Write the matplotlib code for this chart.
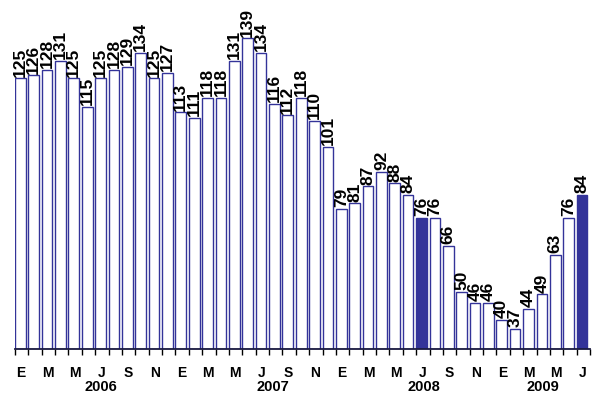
import matplotlib
matplotlib.use("Agg")
from matplotlib import pyplot as plt
from matplotlib import transforms
import numpy as np

plt.rcParams['font.family'] = ['Liberation Sans', 'DejaVu Sans']

# monthly index values, Jan 2006 .. Jul 2009
values_2006 = [125, 126, 128, 131, 125, 115, 125, 128, 129, 134, 125, 127]
values_2007 = [113, 111, 118, 118, 131, 139, 134, 116, 112, 118, 110, 101]
values_2008 = [79, 81, 87, 92, 88, 84, 76, 76, 66, 50, 46, 46]
values_2009 = [40, 37, 44, 49, 63, 76, 84]
values = values_2006 + values_2007 + values_2008 + values_2009

# bars drawn solid (July of each year shown)
highlight = [30, 42]

month_letters = ['E', 'M', 'M', 'J', 'S', 'N']
years = ['2006', '2007', '2008', '2009']
year_pos = [5.9, 18.8, 30.1, 39.0]

blue = '#333399'

fig = plt.figure(figsize=(5.95, 3.95), dpi=100)
ax = fig.add_axes([15 / 595, 1 - 348.5 / 395, 575 / 595, 348.5 / 395])

n = len(values)
x = np.arange(n)
bottom = 30
for i, v in enumerate(values):
    face = blue if i in highlight else 'white'
    ax.bar(x[i], v - bottom, bottom=bottom, width=0.8, align='edge',
           facecolor=face, edgecolor=blue, linewidth=1.0)
    ax.text(x[i] + 0.4, v + 0.6, str(v), rotation=90, ha='center', va='bottom',
            fontsize=12.5, fontweight='bold', color='black')

ax.set_xlim(0, n)
ax.set_ylim(bottom, 152.5)

for s in ['top', 'right', 'left']:
    ax.spines[s].set_visible(False)
ax.spines['bottom'].set_color('#1a1a40')
ax.spines['bottom'].set_linewidth(1.3)
ax.set_yticks([])

ax.set_xticks(np.arange(0, n + 1))
ax.set_xticklabels([])
ax.tick_params(axis='x', which='major', length=4, width=1, color='black', direction='out')

trans = transforms.blended_transform_factory(ax.transData, fig.transFigure)
for i in range(0, n, 2):
    ax.text(i + 0.45, 1 - 373 / 395, month_letters[(i % 12) // 2], ha='center', va='center',
            fontsize=10, fontweight='bold', transform=trans)
for yr, p in zip(years, year_pos):
    ax.text(p + 0.5, 1 - 387 / 395, yr, ha='center', va='center',
            fontsize=10.5, fontweight='bold', transform=trans)

plt.savefig('out.png', dpi=100)
